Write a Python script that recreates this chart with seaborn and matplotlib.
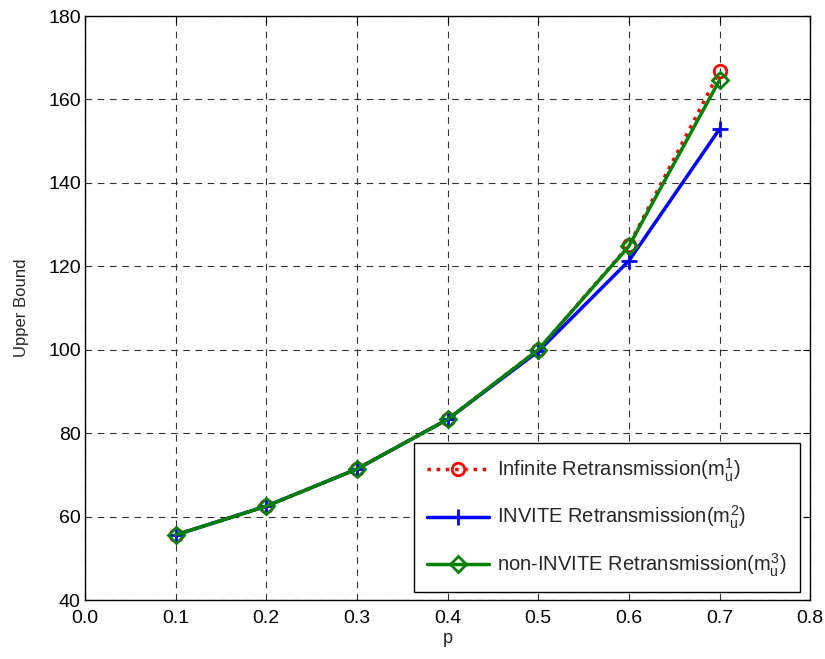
import matplotlib
matplotlib.use("Agg")
import matplotlib.pyplot as plt
import seaborn as sns
import pandas as pd

p = [0.1, 0.2, 0.3, 0.4, 0.5, 0.6, 0.7]
infinite = [55.6, 62.5, 71.4, 83.3, 100.0, 125.0, 166.7]
invite = [55.6, 62.5, 71.4, 83.3, 99.6, 121.3, 152.9]
non_invite = [55.6, 62.5, 71.4, 83.3, 100.0, 124.8, 164.6]
labels = [r"Infinite Retransmission($m_u^1$)",
          r"INVITE Retransmission($m_u^2$)",
          r"non-INVITE Retransmission($m_u^3$)"]
xticks = [0.0, 0.1, 0.2, 0.3, 0.4, 0.5, 0.6, 0.7, 0.8]
yticks = [40, 60, 80, 100, 120, 140, 160, 180]

sns.set_style("white")
plt.rcParams["font.family"] = ["Liberation Sans", "DejaVu Sans"]
plt.rcParams["mathtext.fontset"] = "custom"
plt.rcParams["mathtext.rm"] = "Liberation Sans"
plt.rcParams["mathtext.it"] = "Liberation Sans"

fig = plt.figure(figsize=(8.25, 6.59), dpi=100)
ax = fig.add_axes([0.103, 0.0895, 0.879, 0.8862])

styles = [
    dict(color="#ff0000", linestyle=":", marker="o", markersize=9),
    dict(color="#0000ff", linestyle="-", marker="+", markersize=11),
    dict(color="#008000", linestyle="-", marker="D", markersize=8),
]
for vals, lab, st in zip([infinite, invite, non_invite], labels, styles):
    df = pd.DataFrame({"p": p, "v": vals})
    sns.lineplot(data=df, x="p", y="v", ax=ax, label=lab, color=st["color"],
                 linestyle=st["linestyle"], marker=st["marker"],
                 markersize=st["markersize"], markerfacecolor="none",
                 markeredgecolor=st["color"], markeredgewidth=2, linewidth=2.5)

ax.set_xlim(0.0, 0.8)
ax.set_ylim(40, 180)
ax.set_xticks(xticks)
ax.set_xticklabels([f"{t:.1f}" for t in xticks])
ax.set_yticks(yticks)
ax.tick_params(direction="in", length=5, labelsize=14, colors="black", width=0.8,
               top=True, right=True)
ax.tick_params(axis="x", pad=7)
ax.tick_params(axis="y", pad=3)
ax.grid(True, linestyle=(0, (6, 5)), color="#333333", linewidth=0.8)
for s in ax.spines.values():
    s.set_visible(True)
    s.set_color("black")
    s.set_linewidth(1.0)
ax.set_xlabel("p", fontsize=13, labelpad=2)
ax.set_ylabel("Upper Bound", fontsize=12, labelpad=14)

leg = ax.legend(loc="lower right", bbox_to_anchor=(800 / 825, (659 - 592) / 659),
                bbox_transform=fig.transFigure, fontsize=14.5, frameon=True,
                fancybox=False, edgecolor="black", framealpha=1, borderaxespad=0,
                handlelength=3.1, handletextpad=0.4, labelspacing=1.0, borderpad=0.65)
leg.get_frame().set_linewidth(1.0)

fig.savefig("out.png", dpi=100)
